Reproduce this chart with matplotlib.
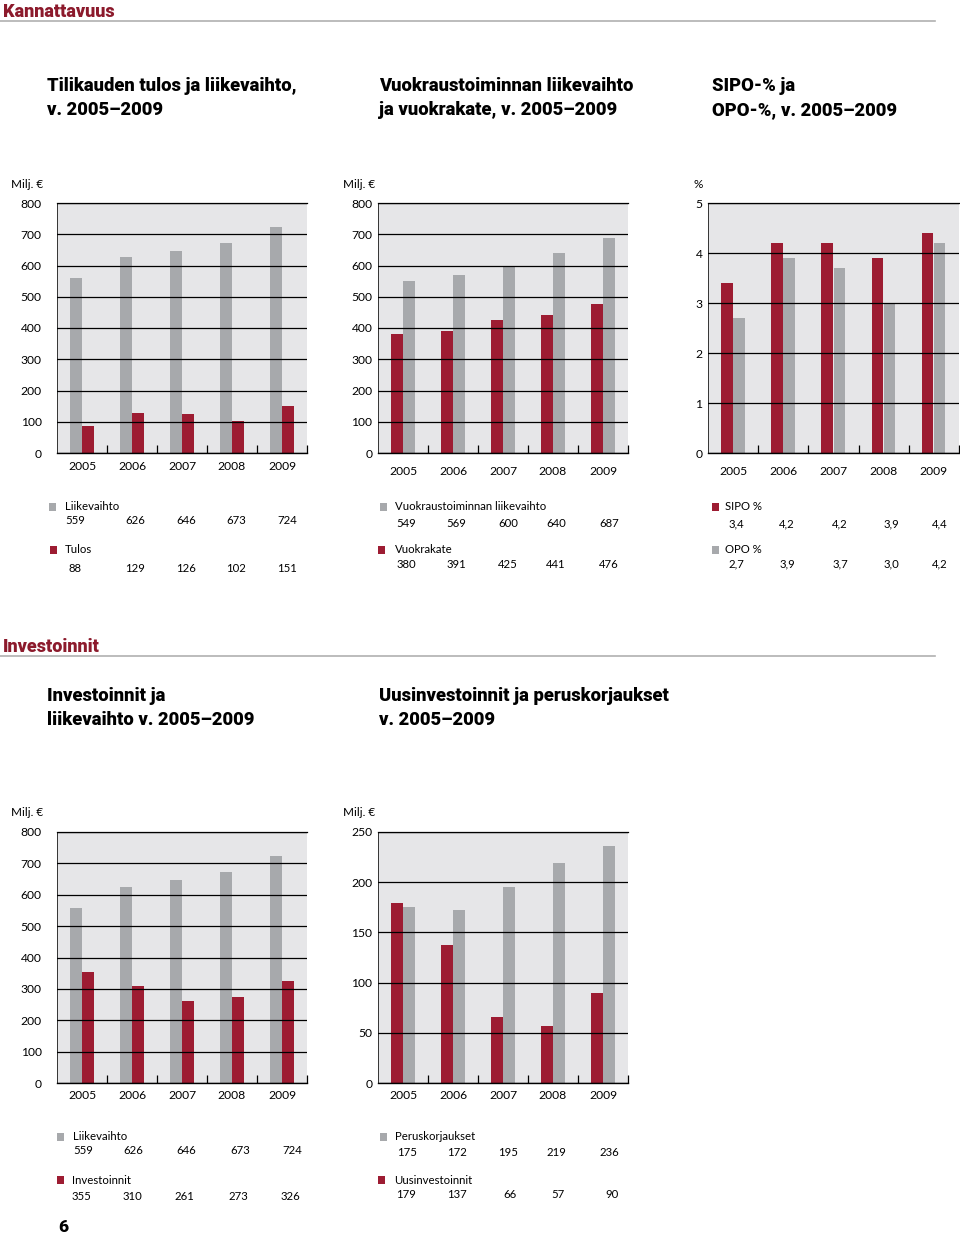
import matplotlib
matplotlib.use("Agg")
import matplotlib.pyplot as plt
from matplotlib import font_manager
from matplotlib.lines import Line2D
from matplotlib.patches import Rectangle

# ---------------- data ----------------
years = ['2005', '2006', '2007', '2008', '2009']
liikevaihto = [559, 626, 646, 673, 724]
tulos = [88, 129, 126, 102, 151]
vuokr_liikevaihto = [549, 569, 600, 640, 687]
vuokrakate = [380, 391, 425, 441, 476]
sipo = [3.4, 4.2, 4.2, 3.9, 4.4]
opo = [2.7, 3.9, 3.7, 3.0, 4.2]
investoinnit = [355, 310, 261, 273, 326]
peruskorjaukset = [175, 172, 195, 219, 236]
uusinvestoinnit = [179, 137, 66, 57, 90]

ticks_800 = [0, 100, 200, 300, 400, 500, 600, 700, 800]
ticks_pct = [0, 1, 2, 3, 4, 5]
ticks_250 = [0, 50, 100, 150, 200, 250]

# ---------------- style ----------------
RED = '#9d1c32'
GRAY = '#a7a9ac'
BG = '#e6e6e8'
HEAD_RED = '#8c1a2c'

names = {f.name for f in font_manager.fontManager.ttflist}
BODY = 'Lato' if 'Lato' in names else 'DejaVu Sans'
if 'Liberation Sans Narrow' in names:
    HEAD = 'Liberation Sans Narrow'
    HEAD_SIZE = 13.5
    SEC_SIZE = 13.5
    HEAD_W = 'bold'
else:
    HEAD = 'Roboto' if 'Roboto' in names else 'DejaVu Sans'
    HEAD_SIZE = 13.2
    SEC_SIZE = 13
    HEAD_W = 'heavy'
plt.rcParams['font.family'] = [BODY, 'DejaVu Sans']

W, H = 960, 1234
fig = plt.figure(figsize=(W / 100, H / 100), dpi=100)
fig.patch.set_facecolor('white')


def fx(x):
    return x / W


def fy(y):
    return 1 - y / H


def ftext(x, y, s, **kw):
    kw.setdefault('va', 'center')
    kw.setdefault('ha', 'left')
    fig.text(fx(x), fy(y), s, **kw)


def make_axes(left, top, right, bottom, ylim, yticks, first, second,
              c_first, c_second, ylab_pad, xlab_pad, unit, unit_x, unit_y):
    ax = fig.add_axes([fx(left), fy(bottom), fx(right - left), (bottom - top) / H])
    ax.set_facecolor(BG)
    n = len(years)
    xs = list(range(n))
    w = 0.23
    ax.bar([x - 0.125 for x in xs], first, width=w, color=c_first, zorder=1)
    ax.bar([x + 0.115 for x in xs], second, width=w, color=c_second, zorder=1)
    ax.set_xlim(-0.5, n - 0.5)
    ax.set_ylim(*ylim)
    ax.set_yticks(yticks)
    ax.set_yticklabels([str(t) for t in yticks])
    ax.set_xticks(xs)
    ax.set_xticklabels(years)
    ax.set_xticks([x + 0.5 for x in xs], minor=True)
    ax.tick_params(axis='x', which='major', length=0, pad=xlab_pad, labelsize=8.7)
    ax.tick_params(axis='x', which='minor', direction='in', length=5.5, width=0.9, color='black')
    ax.tick_params(axis='y', length=0, pad=ylab_pad, labelsize=8.7)
    ax.grid(axis='y', color='black', linewidth=0.9)
    ax.set_axisbelow(False)
    ax.spines['right'].set_visible(False)
    ax.spines['top'].set_color('black')
    ax.spines['top'].set_linewidth(0.9)
    ax.spines['left'].set_color('#333333')
    ax.spines['left'].set_linewidth(0.7)
    ax.spines['bottom'].set_color('black')
    ax.spines['bottom'].set_linewidth(1.0)
    ftext(unit_x, unit_y, unit, fontsize=8.5)
    return ax


def legend_block(sq_x, text_x, y_label, y_vals, label, color, values, xs_vals, fmt):
    fig.add_artist(Rectangle((fx(sq_x), fy(y_label + 4)), 7 / W, 8 / H,
                             transform=fig.transFigure, color=color, lw=0))
    ftext(text_x, y_label, label, fontsize=8.2)
    for v, x in zip(values, xs_vals):
        ftext(x, y_vals, fmt(v), fontsize=8.2, ha='center')


def section(y, s):
    ftext(3, y, s, fontsize=SEC_SIZE, color=HEAD_RED, fontweight=HEAD_W, family=HEAD)
    fig.add_artist(Line2D([fx(0), fx(935)], [fy(y + 8.5), fy(y + 8.5)],
                          transform=fig.transFigure, color='#b0b0b0', lw=1.2))


def title(x, y, lines):
    for i, ln in enumerate(lines):
        ftext(x, y + 24 * i, ln, fontsize=HEAD_SIZE, fontweight=HEAD_W, family=HEAD)


intfmt = lambda v: str(v)
pctfmt = lambda v: f'{v:.1f}'.replace('.', ',')

# ---------------- headers ----------------
section(12, 'Kannattavuus')
title(47, 86, ['Tilikauden tulos ja liikevaihto,', 'v. 2005–2009'])
title(379, 86, ['Vuokraustoiminnan liikevaihto', 'ja vuokrakate, v. 2005–2009'])
title(712, 86, ['SIPO-% ja', 'OPO-%, v. 2005–2009'])

# ---------------- chart 1 ----------------
make_axes(57, 203, 307, 453, (0, 800), ticks_800, liikevaihto, tulos,
          GRAY, RED, 11, 6, 'Milj. €', 11, 184)
legend_block(49, 65, 507, 521, 'Liikevaihto', GRAY, liikevaihto,
             [75, 135, 186, 236, 287], intfmt)
legend_block(50, 65, 550, 568, 'Tulos', RED, tulos,
             [75, 135, 186, 236, 287], intfmt)

# ---------------- chart 2 ----------------
make_axes(378, 203, 628, 453, (0, 800), ticks_800, vuokrakate, vuokr_liikevaihto,
          RED, GRAY, 4, 9, 'Milj. €', 343, 184)
legend_block(380, 395, 507, 524, 'Vuokraustoiminnan liikevaihto', GRAY,
             vuokr_liikevaihto, [406, 456, 508, 556, 609], intfmt)
legend_block(378, 395, 550, 564, 'Vuokrakate', RED, vuokrakate,
             [406, 456, 508, 556, 609], intfmt)

# ---------------- chart 3 ----------------
make_axes(708, 203, 959, 453, (0, 5), ticks_pct, sipo, opo,
          RED, GRAY, 4, 9, '%', 694, 184)
legend_block(712, 725, 507, 524, 'SIPO %', RED, sipo,
             [736, 787, 840, 891, 940], pctfmt)
legend_block(712, 725, 550, 564, 'OPO %', GRAY, opo,
             [736, 787, 840, 891, 940], pctfmt)

# ---------------- second section ----------------
section(647, 'Investoinnit')
title(47, 696, ['Investoinnit ja', 'liikevaihto v. 2005–2009'])
title(379, 696, ['Uusinvestoinnit ja peruskorjaukset', 'v. 2005–2009'])

# ---------------- chart 4 ----------------
make_axes(57, 832, 307, 1083, (0, 800), ticks_800, liikevaihto, investoinnit,
          GRAY, RED, 11, 5, 'Milj. €', 11, 813)
legend_block(57, 73, 1137, 1151, 'Liikevaihto', GRAY, liikevaihto,
             [83, 133, 186, 240, 292], intfmt)
legend_block(57, 72, 1180, 1196, 'Investoinnit', RED, investoinnit,
             [81, 132, 184, 238, 290], intfmt)

# ---------------- chart 5 ----------------
make_axes(378, 832, 628, 1083, (0, 250), ticks_250, uusinvestoinnit, peruskorjaukset,
          RED, GRAY, 4, 5, 'Milj. €', 343, 813)
legend_block(380, 395, 1137, 1153, 'Peruskorjaukset', GRAY, peruskorjaukset,
             [407, 457, 508, 556, 609], intfmt)
legend_block(378, 394, 1180, 1194, 'Uusinvestoinnit', RED, uusinvestoinnit,
             [406, 457, 510, 558, 612], intfmt)

# page number
ftext(58, 1227, '6', fontsize=12.5, fontweight=HEAD_W, family=HEAD)

fig.savefig('out.png', dpi=100)
